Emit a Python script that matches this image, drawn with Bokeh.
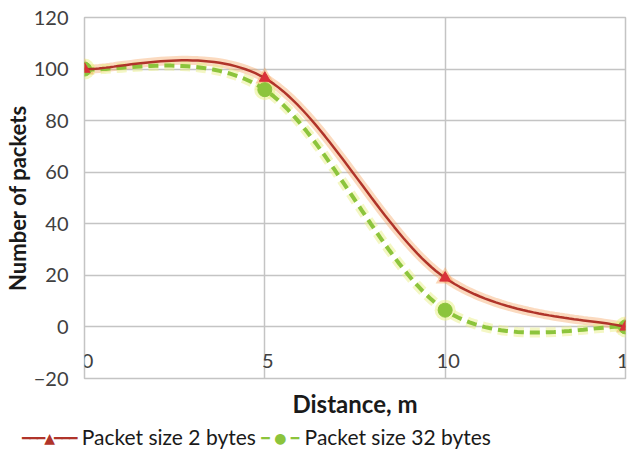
import numpy as np
from bokeh.plotting import figure
from bokeh.layouts import column
from bokeh.models import Range1d, FixedTicker, Label, Div
from bokeh.embed import file_html
from bokeh.resources import INLINE

# ---- data ----
distance = [0, 5, 10, 15]
packets_2_bytes = [100, 96.5, 19, 0]
packets_32_bytes = [100, 92, 6.5, 0]
x_ticks = [0, 5, 10, 15]
x_tick_labels = ["0", "5", "10", "15"]
y_ticks = [-20, 0, 20, 40, 60, 80, 100, 120]
series_names = ["Packet size 2 bytes", "Packet size 32 bytes"]


def excel_smooth(xs, ys, n=40):
    """Excel-style smoothed line (cubic Bezier through the data points)."""
    pts = np.column_stack([xs, ys]).astype(float)
    ext = np.vstack([pts[0], pts, pts[-1]])
    out = []
    for i in range(len(pts) - 1):
        p0, p1, p2, p3 = ext[i], ext[i + 1], ext[i + 2], ext[i + 3]
        c1 = p1 + (p2 - p0) / 6.0
        c2 = p2 - (p3 - p1) / 6.0
        t = np.linspace(0, 1, n)[:, None]
        seg = (1 - t) ** 3 * p1 + 3 * (1 - t) ** 2 * t * c1 + 3 * (1 - t) * t ** 2 * c2 + t ** 3 * p2
        out.append(seg if i == 0 else seg[1:])
    a = np.vstack(out)
    return a[:, 0], a[:, 1]


FONT = "Lato"
GRID = "#c4c4c4"
RED = "#b0342a"
RED_MARK = "#d9303a"
RED_GLOW = "#f6a35e"
GREEN = "#8cc43c"
GREEN_GLOW = "#e9f08a"

p = figure(
    width=631, height=420,
    x_range=Range1d(0, 15), y_range=Range1d(-20, 120),
    output_backend="svg", toolbar_location=None,
    min_border_left=75, min_border_right=6, min_border_top=17, min_border_bottom=41,
    background_fill_color="white", border_fill_color="white",
)
p.outline_line_color = GRID
p.outline_line_width = 1.5

# grid
p.xgrid.ticker = x_ticks
p.ygrid.ticker = y_ticks
for g in (p.xgrid, p.ygrid):
    g.grid_line_color = GRID
    g.grid_line_width = 1.5

# y axis
yax = p.yaxis[0]
yax.ticker = y_ticks
yax.axis_line_color = None
yax.major_tick_line_color = None
yax.minor_tick_line_color = None
yax.major_label_text_font = FONT
yax.major_label_text_font_size = "20px"
yax.major_label_text_color = "#404040"
yax.major_label_standoff = 10
yax.axis_label = "Number of packets"
yax.axis_label_text_font = FONT
yax.axis_label_text_font_style = "bold"
yax.axis_label_text_font_size = "22px"
yax.axis_label_text_color = "#1a1a1a"
yax.axis_label_standoff = 0

# x axis: title only
xax = p.xaxis[0]
xax.ticker = FixedTicker(ticks=[])
xax.axis_line_color = None
xax.major_tick_line_color = None
xax.minor_tick_line_color = None
xax.major_tick_out = 0
xax.major_tick_in = 0
xax.major_label_standoff = 0
xax.axis_label = "Distance, m"
xax.axis_label_text_font = FONT
xax.axis_label_text_font_style = "bold"
xax.axis_label_text_font_size = "24px"
xax.axis_label_text_color = "#1a1a1a"
xax.axis_label_standoff = 10

# x tick labels sit below the category axis that crosses at y = 0 (Excel style)
for xv, lab in zip(x_ticks, x_tick_labels):
    p.add_layout(Label(x=xv, y=0, text=lab, x_offset=3, y_offset=-34,
                       text_align="center", text_baseline="middle",
                       text_font=FONT, text_font_size="20px", text_color="#404040"))

# series
sx2, sy2 = excel_smooth(distance, packets_2_bytes)
sx32, sy32 = excel_smooth(distance, packets_32_bytes)

# glow
p.line(sx2, sy2, line_color=RED_GLOW, line_width=9, line_alpha=0.4)
p.line(sx32, sy32, line_color=GREEN_GLOW, line_width=10, line_alpha=0.5, line_dash="10 6")
p.scatter(distance, packets_32_bytes, marker="circle", size=21, fill_color=GREEN_GLOW,
          line_color=None, fill_alpha=0.55)
p.scatter(distance, packets_2_bytes, marker="triangle", size=19, fill_color=RED_GLOW,
          line_color=None, fill_alpha=0.45)

p.line(sx32, sy32, line_color=GREEN, line_width=4, line_dash="10 6")
p.scatter(distance, packets_32_bytes, marker="circle", size=14, fill_color=GREEN, line_color=GREEN)
p.line(sx2, sy2, line_color=RED, line_width=2.5)
p.scatter(distance, packets_2_bytes, marker="triangle", size=11, fill_color=RED_MARK, line_color=RED_MARK)

# ---- legend strip under the chart ----
legend_html = (
    f'<span style="color:{RED};font-family:\'DejaVu Sans\';font-size:14px;'
    f'letter-spacing:-1px;vertical-align:2px">━━━▲━━━</span>'
    f'&nbsp;{series_names[0]}&nbsp;'
    f'<span style="color:{GREEN};font-family:\'DejaVu Sans\';font-size:14px;'
    f'vertical-align:2px">━&nbsp;●&nbsp;━</span>'
    f'&nbsp;{series_names[1]}'
)
legend_div = Div(
    text=legend_html, width=631, height=27,
    styles={"font-family": "Lato", "font-size": "21px", "color": "#1a1a1a",
            "padding-left": "17px", "white-space": "nowrap", "line-height": "24px"},
)

layout = column(p, legend_div, spacing=0)
open("out.html", "w").write(file_html(layout, INLINE))
